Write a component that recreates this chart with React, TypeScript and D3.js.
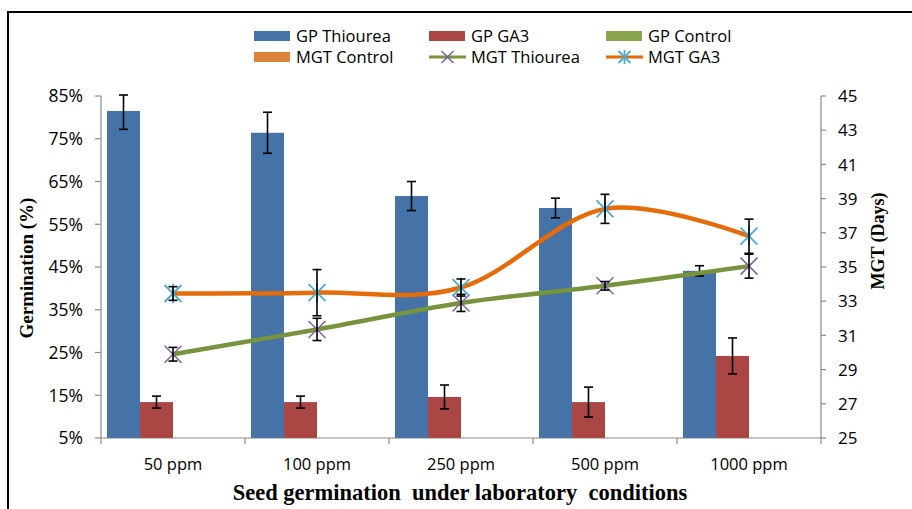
import React from "react";
import * as d3 from "d3";

const categories = ["50 ppm", "100 ppm", "250 ppm", "500 ppm", "1000 ppm"];

// Germination (%) - primary axis
const gpThiourea = [81.5, 76.4, 61.6, 58.8, 44.1];
const gpThioureaErr = [4.3, 4.8, 3.4, 2.3, 1.2];
const gpGA3 = [13.4, 13.4, 14.6, 13.4, 24.2];
const gpGA3Err = [1.4, 1.4, 2.8, 3.5, 4.2];
const gpControl: (number | null)[] = [null, null, null, null, null];
const mgtControl: (number | null)[] = [null, null, null, null, null];

// MGT (Days) - secondary axis
const mgtThiourea = [29.9, 31.35, 32.9, 33.9, 35.05];
const mgtThioureaErr = [0.4, 0.65, 0.5, 0.25, 0.7];
const mgtGA3 = [33.45, 33.5, 33.8, 38.4, 36.8];
const mgtGA3Err = [0.4, 1.35, 0.5, 0.85, 1.0];

const leftTicks = [5, 15, 25, 35, 45, 55, 65, 75, 85];
const rightTicks = [25, 27, 29, 31, 33, 35, 37, 39, 41, 43, 45];

const barSeries = ["GP Thiourea", "GP GA3", "GP Control", "MGT Control"];

const C = {
  blue: "#4572A7",
  red: "#AA4643",
  green: "#89A54E",
  orange: "#DB843D",
  lineOrange: "#E46C0A",
  lineGreen: "#77933C",
  purple: "#7B5E9E",
  cyan: "#4BACC6",
  axis: "#8C8C8C",
};

const W = 912;
const H = 509;
const plot = { left: 101, right: 821, top: 96, bottom: 438 };

const sansFont = "'Open Sans', 'DejaVu Sans', sans-serif";
const serifFont = "'Liberation Serif', 'Times New Roman', serif";

export default function App() {
  const x = d3.scaleBand<string>().domain(categories).range([plot.left, plot.right]).padding(0);
  const xg = d3
    .scaleBand<string>()
    .domain(barSeries)
    .range([0, x.bandwidth()])
    .paddingInner(0)
    .paddingOuter(0.1818);
  const yL = d3.scaleLinear().domain([5, 85]).range([plot.bottom, plot.top]);
  const yR = d3.scaleLinear().domain([25, 45]).range([plot.bottom, plot.top]);

  const cx = (c: string) => (x(c) ?? 0) + x.bandwidth() / 2;

  const curve = d3.curveCatmullRom.alpha(0);
  const lineR = d3
    .line<number>()
    .x((_, i) => cx(categories[i]))
    .y((d) => yR(d))
    .curve(curve);

  const barData: { name: string; color: string; vals: (number | null)[]; errs?: number[] }[] = [
    { name: "GP Thiourea", color: C.blue, vals: gpThiourea, errs: gpThioureaErr },
    { name: "GP GA3", color: C.red, vals: gpGA3, errs: gpGA3Err },
    { name: "GP Control", color: C.green, vals: gpControl },
    { name: "MGT Control", color: C.orange, vals: mgtControl },
  ];

  const errBar = (xc: number, y1: number, y2: number, key: string) => (
    <g key={key} stroke="#000" strokeWidth={1.6}>
      <line x1={xc} x2={xc} y1={y1} y2={y2} />
      <line x1={xc - 4.5} x2={xc + 4.5} y1={y1} y2={y1} />
      <line x1={xc - 4.5} x2={xc + 4.5} y1={y2} y2={y2} />
    </g>
  );

  const xMark = (px: number, py: number, color: string, key: string, r = 8.5) => (
    <g key={key} stroke={color} strokeWidth={1.5}>
      <line x1={px - r} y1={py - r} x2={px + r} y2={py + r} />
      <line x1={px - r} y1={py + r} x2={px + r} y2={py - r} />
    </g>
  );
  const starMark = (px: number, py: number, color: string, key: string, r = 8.5) => (
    <g key={key} stroke={color} strokeWidth={1.8}>
      <line x1={px - r} y1={py - r} x2={px + r} y2={py + r} />
      <line x1={px - r} y1={py + r} x2={px + r} y2={py - r} />
      <line x1={px} y1={py - r * 1.15} x2={px} y2={py + r * 1.15} />
    </g>
  );

  const legendCols = [254, 429, 606];
  const legendRows = [36, 57];
  const legendItems = [
    { name: "GP Thiourea", type: "rect", color: C.blue },
    { name: "GP GA3", type: "rect", color: C.red },
    { name: "GP Control", type: "rect", color: C.green },
    { name: "MGT Control", type: "rect", color: C.orange },
    { name: "MGT Thiourea", type: "x", color: C.lineGreen, mcolor: C.purple },
    { name: "MGT GA3", type: "star", color: C.lineOrange, mcolor: C.cyan },
  ];

  return (
    <svg
      width={W}
      height={H}
      style={{ position: "absolute", left: 0, top: 0, background: "#fff" }}
    >
      <rect x={0} y={0} width={W} height={H} fill="#fff" />
      {/* figure border */}
      <rect x={8} y={12} width={W + 20} height={H + 20} fill="none" stroke="#000" strokeWidth={2} />

      {/* legend */}
      {legendItems.map((it, i) => {
        const lx = legendCols[i % 3];
        const ly = legendRows[Math.floor(i / 3)];
        return (
          <g key={it.name}>
            {it.type === "rect" ? (
              <rect x={lx} y={ly - 5} width={36} height={10} fill={it.color} />
            ) : (
              <g>
                <line x1={lx} x2={lx + 37} y1={ly} y2={ly} stroke={it.color} strokeWidth={3} />
                {it.type === "x"
                  ? xMark(lx + 18.5, ly, it.mcolor!, "lx", 6)
                  : starMark(lx + 18.5, ly, it.mcolor!, "ls", 6)}
              </g>
            )}
            <text
              x={lx + 42}
              y={ly}
              dy="0.36em"
              fontFamily={sansFont}
              fontSize={16.5}
              fill="#000"
            >
              {it.name}
            </text>
          </g>
        );
      })}

      {/* axes */}
      <g stroke={C.axis} strokeWidth={1.2} fill="none">
        <line x1={plot.left} x2={plot.left} y1={plot.top} y2={plot.bottom} />
        <line x1={plot.right} x2={plot.right} y1={plot.top} y2={plot.bottom} />
        <line x1={plot.left} x2={plot.right} y1={plot.bottom} y2={plot.bottom} />
        {leftTicks.map((t) => (
          <line key={"lt" + t} x1={plot.left - 6} x2={plot.left} y1={yL(t)} y2={yL(t)} />
        ))}
        {rightTicks.map((t) => (
          <line key={"rt" + t} x1={plot.right} x2={plot.right + 5} y1={yR(t)} y2={yR(t)} />
        ))}
        {categories.map((c) => (
          <line key={"xt" + c} x1={x(c)} x2={x(c)} y1={plot.bottom} y2={plot.bottom + 6} />
        ))}
        <line x1={plot.right} x2={plot.right} y1={plot.bottom} y2={plot.bottom + 6} />
      </g>

      {leftTicks.map((t) => (
        <text
          key={"ltl" + t}
          x={83}
          y={yL(t)}
          dy="0.36em"
          textAnchor="end"
          fontFamily={sansFont}
          fontSize={17.5}
          fill="#000"
        >
          {t + "%"}
        </text>
      ))}
      {rightTicks.map((t) => (
        <text
          key={"rtl" + t}
          x={838}
          y={yR(t)}
          dy="0.36em"
          textAnchor="start"
          fontFamily={sansFont}
          fontSize={17}
          fill="#000"
        >
          {t}
        </text>
      ))}
      {categories.map((c) => (
        <text
          key={"xl" + c}
          x={cx(c)}
          y={464}
          dy="0.36em"
          textAnchor="middle"
          fontFamily={sansFont}
          fontSize={16.5}
          fill="#000"
        >
          {c}
        </text>
      ))}

      {/* axis titles */}
      <text
        transform={`translate(33,268) rotate(-90)`}
        textAnchor="middle"
        fontFamily={serifFont}
        fontWeight="bold"
        fontSize={19}
        fill="#000"
      >
        Germination (%)
      </text>
      <text
        transform={`translate(884,241) rotate(-90)`}
        textAnchor="middle"
        fontFamily={serifFont}
        fontWeight="bold"
        fontSize={18}
        fill="#000"
      >
        MGT (Days)
      </text>
      <text
        x={460}
        y={500}
        textAnchor="middle"
        fontFamily={serifFont}
        fontWeight="bold"
        fontSize={22.5}
        fill="#000"
        style={{ whiteSpace: "pre" }}
      >
        {"Seed germination  under laboratory  conditions"}
      </text>

      {/* bars */}
      {barData.map((s) =>
        categories.map((c, i) => {
          const v = s.vals[i];
          if (v == null) return null;
          const bx = (x(c) ?? 0) + (xg(s.name) ?? 0);
          return (
            <rect
              key={s.name + c}
              x={bx}
              y={yL(v)}
              width={xg.bandwidth()}
              height={yL(5) - yL(v)}
              fill={s.color}
            />
          );
        })
      )}
      {barData.map((s) =>
        categories.map((c, i) => {
          const v = s.vals[i];
          if (v == null || !s.errs) return null;
          const bx = (x(c) ?? 0) + (xg(s.name) ?? 0) + xg.bandwidth() / 2;
          return errBar(bx, Math.max(yL(v + s.errs[i]), plot.top - 1), yL(v - s.errs[i]), "e" + s.name + c);
        })
      )}

      {/* lines */}
      <path d={lineR(mgtThiourea) ?? ""} fill="none" stroke={C.lineGreen} strokeWidth={4.5} />
      <path d={lineR(mgtGA3) ?? ""} fill="none" stroke={C.lineOrange} strokeWidth={4.5} />

      {mgtThiourea.map((v, i) => xMark(cx(categories[i]), yR(v), C.purple, "mx" + i))}
      {mgtGA3.map((v, i) => starMark(cx(categories[i]), yR(v), C.cyan, "ms" + i))}

      {mgtThiourea.map((v, i) =>
        errBar(cx(categories[i]), yR(v + mgtThioureaErr[i]), yR(v - mgtThioureaErr[i]), "et" + i)
      )}
      {mgtGA3.map((v, i) =>
        errBar(cx(categories[i]), yR(v + mgtGA3Err[i]), yR(v - mgtGA3Err[i]), "eg" + i)
      )}
    </svg>
  );
}
